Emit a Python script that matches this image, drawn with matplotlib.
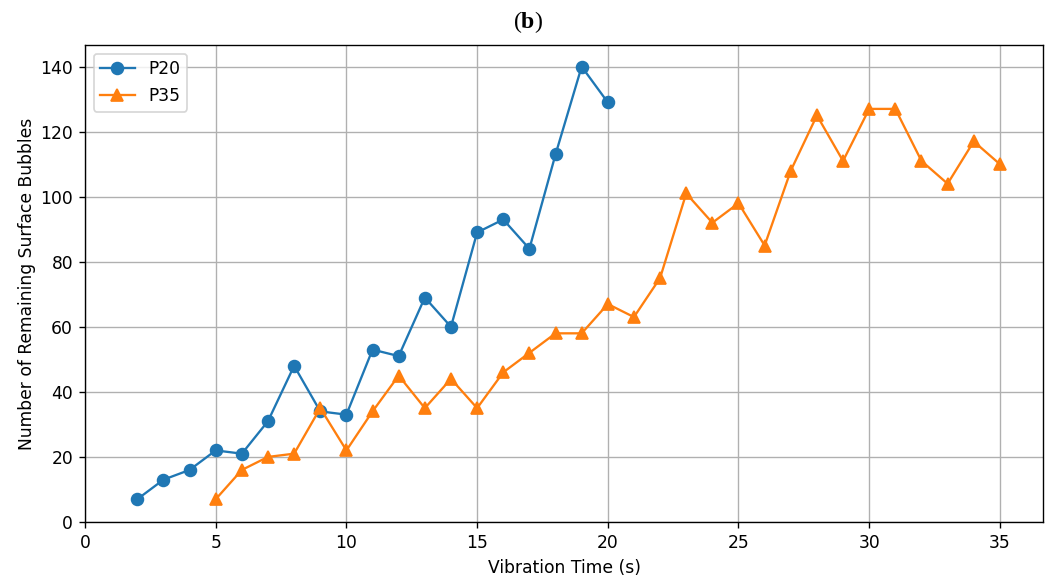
import numpy as np
import matplotlib
matplotlib.use("Agg")
import matplotlib.pyplot as plt

# vibration time (s) and remaining surface bubbles
t_p20 = list(range(2, 21))
bubbles_p20 = [7, 13, 16, 22, 21, 31, 48, 34, 33, 53, 51, 69, 60, 89, 93, 84, 113, 140, 129]

t_p35 = list(range(5, 36))
bubbles_p35 = [7, 16, 20, 21, 35, 22, 34, 45, 35, 44, 35, 46, 52, 58, 58, 67, 63, 75,
               101, 92, 98, 85, 108, 125, 111, 127, 127, 111, 104, 117, 110]

plt.rcParams['mathtext.fontset'] = 'custom'
plt.rcParams['mathtext.rm'] = 'Liberation Serif'
plt.rcParams['mathtext.bf'] = 'Liberation Serif:bold'

DPI = 123
fig = plt.figure(figsize=(1051 / DPI, 576 / DPI), dpi=DPI)
ax = fig.add_axes([0.0809, 0.0938, 0.9115, 0.8281])

ax.plot(t_p20, bubbles_p20, '-o', color='#1f77b4', linewidth=1.35, markersize=6.9, label='P20')
ax.plot(t_p35, bubbles_p35, '-^', color='#ff7f0e', linewidth=1.35, markersize=6.9, label='P35')

ax.set_xlim(left=0)
ax.set_ylim(bottom=0)
ax.set_xlabel('Vibration Time (s)')
ax.set_ylabel('Number of Remaining Surface Bubbles', labelpad=2.5)
ax.grid(True, color='#b0b0b0', linewidth=0.8)
ax.legend(loc='upper left')

fig.text(0.502, 0.962, r'$\mathrm{(}\mathbf{b}\mathrm{)}$', ha='center', va='center', fontsize=14)

fig.savefig('out.png', dpi=DPI)
